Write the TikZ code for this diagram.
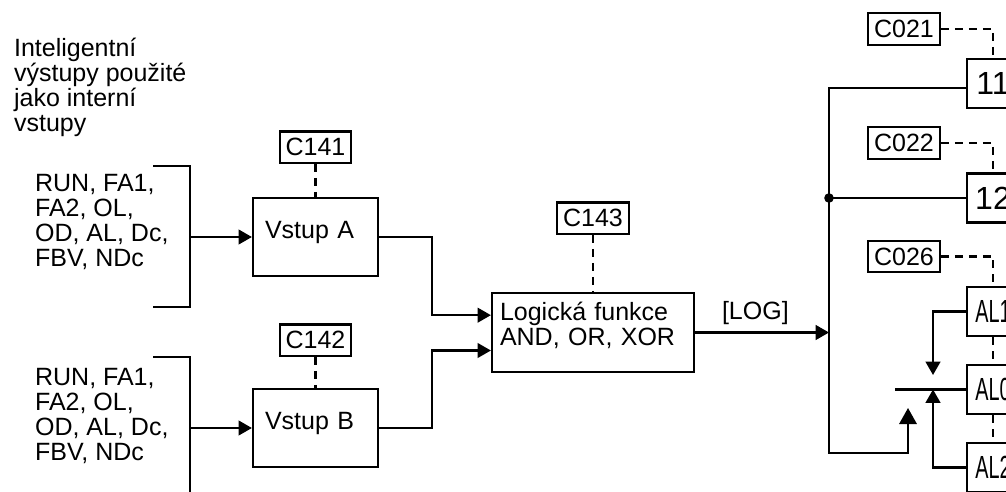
\documentclass[tikz,border=0pt]{standalone}
\usepackage{fontspec}
\setmainfont{Liberation Sans}
\usepackage{graphicx}
\usetikzlibrary{positioning,arrows.meta}

\newcommand{\diagfont}{\fontsize{18.75pt}{18.75pt}\selectfont}
\newcommand{\outfont}{\fontsize{24pt}{24pt}\selectfont}
\newcommand{\alnarrow}[1]{\scalebox{0.62}[1]{#1}}

\begin{document}
\begin{tikzpicture}[
    x=0.75pt, y=-0.75pt,
    line width=1.65pt,
    every node/.style={font=\diagfont},
    inbox/.style={draw, minimum height=58.5pt, inner xsep=9pt, text width=75.75pt, text depth=10.5pt, align=left},
    logbox/.style={draw, minimum height=59.25pt, inner xsep=6pt, text width=139.5pt, align=left},
    pbox/.style={draw, minimum width=53.5pt, minimum height=23.5pt, inner sep=1pt},
    outbox/.style={draw, fill=white, minimum width=39pt, minimum height=36.75pt, inner sep=0pt, font=\outfont},
    txt/.style={anchor=north west, inner sep=0pt, align=left},
    arr/.style={-{Triangle[length=10pt, width=11pt]}},
    bigarr/.style={-{Triangle[length=12pt, width=13pt]}},
    pline/.style={dash pattern=on 6pt off 4.5pt}
]
\useasboundingbox (0,0) rectangle (1006,492);
\clip (0,0) rectangle (1006,492);

% input lists
\node[txt] (note) at (13,36.5) {Inteligentní\\výstupy použité\\jako interní\\vstupy};
\node[txt] (listA) at (34,173) {RUN, FA1,\\FA2, OL,\\OD, AL, Dc,\\FBV, NDc};
\node[txt] (listB) at (34,367) {RUN, FA1,\\FA2, OL,\\OD, AL, Dc,\\FBV, NDc};

% input stages
\node[inbox] (vstupA) at (315.5,237) {Vstup A};
\node[inbox] (vstupB) at (315.5,428) {Vstup B};
\node[pbox, above=24.75pt of vstupA] (c141) {C141};
\node[pbox, above=23.25pt of vstupB] (c142) {C142};

% logic function
\node[logbox] (logic) at (593,332.5) {Logická funkce\\AND, OR, XOR\\[-6pt]\mbox{}};
\node[pbox, above=42.75pt of logic] (c143) {C143};

% outputs
\node[pbox] (c021) at (904,29) {C021};
\node[pbox] (c022) at (904,143) {C022};
\node[pbox] (c026) at (904,256.5) {C026};
\node[outbox] (out11) at (993,83.5) {11};
\node[outbox] (out12) at (993,198) {12};
\node[outbox] (al1) at (993,311.5) {\alnarrow{AL1}};
\node[outbox] (al0) at (993,389.5) {\alnarrow{AL0}};
\node[outbox] (al2) at (993,467.5) {\alnarrow{AL2}};

\coordinate (brA) at (190,166);
\coordinate (brAend) at (190,307);
\coordinate (brB) at (190,357);
\coordinate (brBend) at (190,500);
\coordinate (joinAB) at (432,0);
\coordinate (busTop) at (829,88);
\coordinate (busBot) at (829,453);
\coordinate (tipBig) at (908,408);
\coordinate (tipDn) at (933,375);
\coordinate (tipUp) at (933,389.5);

% brackets
\draw ([xshift=-27.75pt]brA) -- (brA) -- (brAend) -- ++(-37,0);
\draw ([xshift=-27.75pt]brB) -- (brB) -- (brBend);
\draw[arr] (brA |- vstupA.west) -- (vstupA.west);
\draw[arr] (brB |- vstupB.west) -- (vstupB.west);

\draw[pline] (c141.south) -- (c141.south |- vstupA.north);
\draw[pline] (c142.south) -- (c142.south |- vstupB.north);
\draw[pline] (c143.south) -- (c143.south |- logic.north);

\draw[arr] (vstupA.east) -- (vstupA.east -| joinAB) |- ([yshift=13pt]logic.west);
\draw[arr] (vstupB.east) -- (vstupB.east -| joinAB) |- ([yshift=-13.5pt]logic.west);

\draw[arr] (logic.east) -- node[above=5pt, inner sep=0pt, pos=0.45] {[LOG]} (logic.east -| busTop);

% output bus
\draw[bigarr] (busTop -| out11.west) -- (busTop) -- (busBot) -| (tipBig);
\draw (busTop |- out12.west) -- (out12.west);
\fill (busTop |- out12.west) circle[radius=3.6pt];

\draw[pline] (c021.east) -| (out11.north);
\draw[pline] (c022.east) -| (out12.north);
\draw[pline] (c026.east) -| (al1.north);
\draw[pline] (al1.south) -- (al0.north);
\draw[pline] (al0.south) -- (al2.north);

\draw[arr] (al1.west) -| (tipDn);
\draw (al0.west) -- ++(-71,0);
\draw[arr] (al2.west) -| (tipUp);

\end{tikzpicture}
\end{document}
